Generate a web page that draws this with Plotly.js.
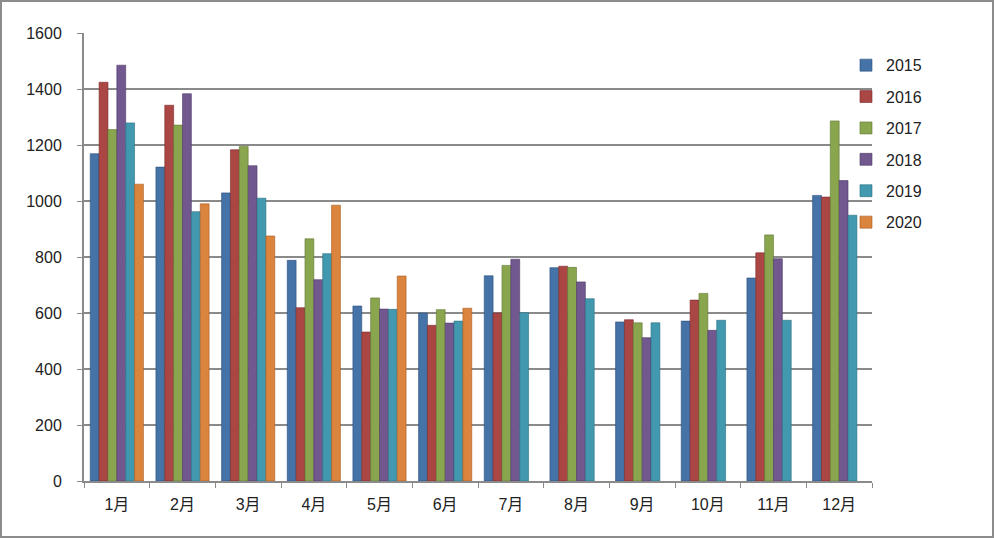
<!DOCTYPE html>
<html>
<head>
<meta charset="utf-8">
<script src="https://cdn.plot.ly/plotly-3.0.1.min.js"></script>
<style>
html,body{margin:0;padding:0;background:#fff;}
#wrap{position:relative;width:994px;height:538px;}
#chart{width:994px;height:538px;}
#frame{position:absolute;left:0;top:0;width:994px;height:538px;box-sizing:border-box;border:2px solid #8c8c8c;pointer-events:none;}
</style>
</head>
<body>
<div id="wrap"><div id="chart"></div><div id="frame"></div></div>
<script>
const months = ["1月","2月","3月","4月","5月","6月","7月","8月","9月","10月","11月","12月"];
const years = ["2015","2016","2017","2018","2019","2020"];
const v2015 = [1169, 1121, 1029, 788, 625, 600, 733, 762, 568, 571, 725, 1020];
const v2016 = [1424, 1342, 1183, 619, 532, 556, 600, 767, 576, 646, 815, 1014];
const v2017 = [1255, 1271, 1195, 865, 654, 612, 770, 763, 565, 670, 879, 1286];
const v2018 = [1485, 1383, 1126, 719, 614, 564, 792, 711, 512, 538, 794, 1073];
const v2019 = [1279, 962, 1010, 812, 613, 571, 601, 651, 565, 574, 574, 949];
const v2020 = [1060, 990, 875, 985, 732, 617, null, null, null, null, null, null];
const yTicks = [0, 200, 400, 600, 800, 1000, 1200, 1400, 1600];

const series = [v2015, v2016, v2017, v2018, v2019, v2020];
const colors = ["#4572A7", "#AA4643", "#89A54E", "#71588F", "#4198AF", "#DB843D"];
const edges = ["#2c4f7c", "#7a2a28", "#5f7633", "#4d3b66", "#2a6f80", "#a85c20"];

const traces = series.map((vals, i) => ({
  type: "bar",
  name: years[i],
  x: months,
  y: vals,
  legendgroup: years[i],
  marker: {color: colors[i], line: {color: edges[i], width: 0.6}},
  hoverinfo: "x+y+name"
}));

const font = "'Liberation Sans', 'Noto Sans CJK JP', sans-serif";
const layout = {
  width: 994,
  height: 538,
  paper_bgcolor: "#ffffff",
  plot_bgcolor: "#ffffff",
  margin: {l: 84, r: 122, t: 33, b: 57},
  barmode: "group",
  bargap: 0.19,
  bargroupgap: 0,
  font: {family: font, size: 16, color: "#222"},
  xaxis: {
    type: "category",
    showline: true,
    linecolor: "#8a8a8a",
    linewidth: 2,
    ticks: "outside",
    tickson: "boundaries",
    ticklen: 5,
    tickcolor: "#8a8a8a",
    showgrid: false,
    tickfont: {family: font, size: 16, color: "#222"},
    ticklabelstandoff: 8
  },
  yaxis: {
    range: [0, 1600],
    tickvals: yTicks,
    ticktext: yTicks.map(String),
    showline: true,
    linecolor: "#8a8a8a",
    linewidth: 2,
    ticks: "outside",
    ticklen: 5,
    tickcolor: "#8a8a8a",
    showgrid: true,
    gridcolor: "#8a8a8a",
    gridwidth: 1.5,
    zeroline: false,
    tickfont: {family: font, size: 16, color: "#222"},
    ticklabelstandoff: 12
  },
  legend: {
    x: 0.967,
    y: 0.966,
    xanchor: "left",
    yanchor: "top",
    font: {family: font, size: 16, color: "#222"},
    tracegroupgap: 7.6,
    itemwidth: 30,
    bgcolor: "rgba(0,0,0,0)"
  },
  showlegend: true
};

Plotly.newPlot("chart", traces, layout, {displayModeBar: false, staticPlot: true});
</script>
</body>
</html>
